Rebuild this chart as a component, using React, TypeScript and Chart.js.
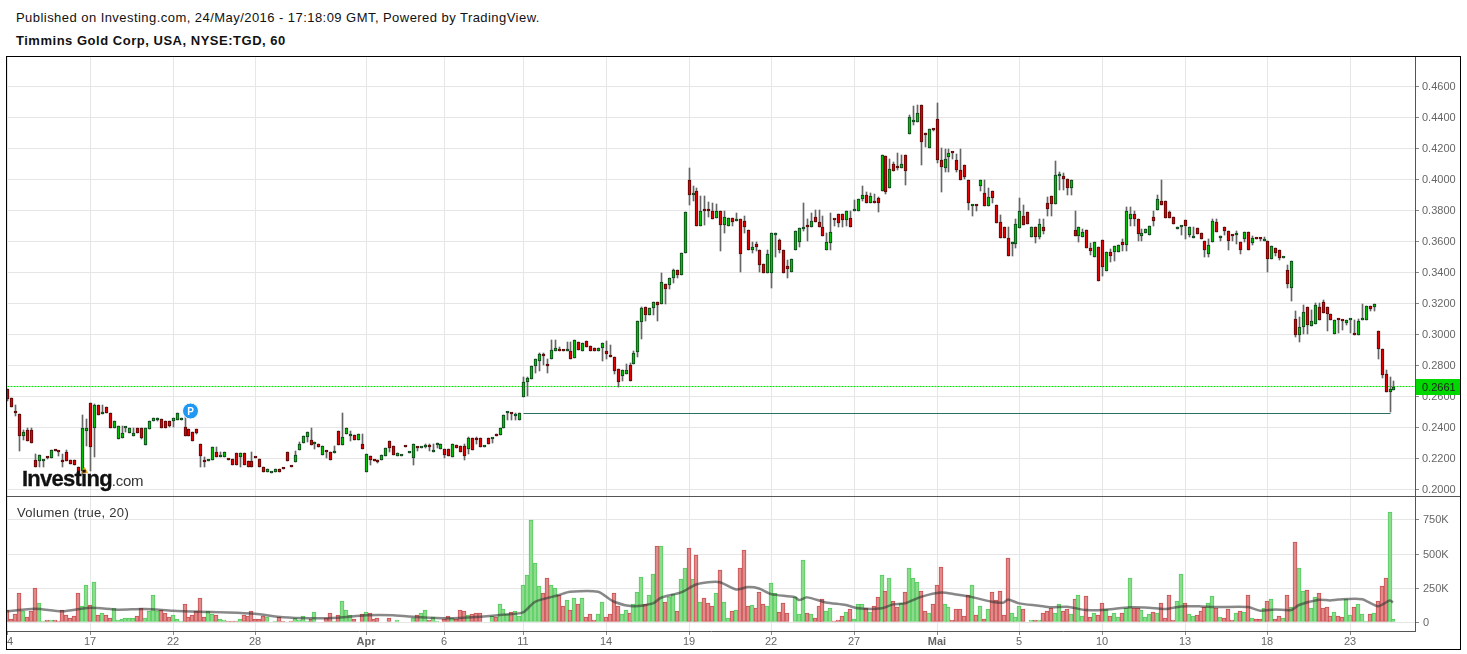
import React, { useEffect, useRef } from "react";
import { Chart, LinearScale, registerables } from "chart.js";

class SnapScale extends LinearScale {
  static id = "snap";
  static defaults = {};
  getPixelForValue(value: any) {
    const p = super.getPixelForValue(value);
    return Number.isNaN(p) ? p : Math.round(p) + ((this.options as any).snapOffset || 0);
  }
}
Chart.register(...registerables, SnapScale);

const opens = [
.2645,.2587,.2494,.2484,.234,.2381,.2381,.2189,.2178,.2183,
.2207,.2198,.2252,.2247,.2189,.2241,.2187,.2187,.2144,.2118,
.2376,.2555,.2394,.2542,.2487,.2531,.2491,.2394,.2322,.2327,
.2392,.2363,.2342,.2394,.2394,.2286,.2385,.2441,.2447,.2452,
.2441,.2441,.2437,.2443,.2445,.2402,.2387,.2368,.2387,.229,
.2189,.218,.2187,.2241,.2204,.2204,.2191,.2196,.2232,.2204,
.2232,.2178,.2183,.2206,.2191,.214,.2108,.2103,.2112,.2127,
.2136,.2241,.2146,.2172,.2254,.2295,.2333,.2316,.2288,.229,
.2222,.2241,.2241,.223,.2374,.2286,.2355,.234,.2351,.2316,
.2293,.2111,.2212,.219,.2186,.2188,.2214,.2312,.228,.2214,
.2214,.2275,.2235,.2197,.2267,.2263,.2271,.2275,.2239,.2284,
.2259,.2261,.2257,.2207,.2287,.228,.228,.2259,.2332,.2327,
.2327,.2272,.2332,.2323,.2357,.2349,.2396,.249,.2492,.2472,
.2445,.2593,.2689,.2708,.2792,.2828,.2871,.2807,.2839,.2888,
.2896,.2896,.289,.2892,.2843,.2948,.2892,.2954,.2922,.291,
.2888,.2907,.2892,.2866,.2854,.2775,.273,.274,.28,.2807,
.2881,.308,.3174,.3122,.3166,.3207,.3194,.3323,.3314,.3359,
.3413,.3381,.352,.3993,.3895,.3923,.3695,.38,.38,.3794,
.3746,.3794,.3701,.3695,.3748,.3731,.3742,.3731,.3671,.354,
.3581,.3542,.3452,.3391,.3391,.3637,.3606,.3542,.3439,.3398,
.354,.3591,.3675,.369,.3688,.3755,.3723,.369,.354,.3587,
.3735,.3774,.3774,.3733,.3748,.3793,.3794,.3869,.3897,.3845,
.3852,.3877,.3923,.4148,.394,.4097,.4084,.4069,.4155,.4288,
.4366,.4366,.4477,.4297,.4198,.4317,.4387,.4123,.4069,.414,
.4168,.4123,.4058,.409,.3994,.3828,.3832,.3953,.391,.3824,
.3923,.3832,.3723,.3693,.3619,.3583,.3579,.3682,.3761,.3787,
.3626,.3691,.3624,.3691,.3845,.389,.3837,.4017,.402,.4,
.394,.3671,.363,.3624,.3671,.3555,.3495,.3561,.3607,.3405,
.3529,.3527,.3527,.3594,.3572,.3742,.3774,.3742,.3633,.3652,
.3639,.3755,.38,.3858,.3858,.3787,.3755,.3677,.3692,.3738,
.3639,.3619,.3686,.3654,.3598,.3518,.3594,.3725,.3621,.3692,
.3667,.3641,.3639,.3596,.3615,.366,.3585,.3618,.3622,.3598,
.3598,.3484,.3557,.354,.3492,.3411,.3297,.3099,.2994,.3045,
.3176,.3052,.3067,.3176,.3209,.3176,.3131,.3002,.3097,.309,
.3071,.309,.3009,.2994,.309,.309,.3179,.3174,.3022,.2906,
.2744,.2626,.2639];

const closes = [
.2581,.2527,.2489,.234,.2368,.2308,.23,.214,.222,.2187,
.2203,.2252,.2245,.2236,.2172,.2183,.2161,.2157,.2097,.2394,
.2394,.2273,.2542,.248,.2491,.2489,.2394,.2439,.2408,.2363,
.2394,.2394,.2363,.2363,.2329,.2394,.2441,.2458,.2458,.2394,
.2394,.2404,.2458,.2491,.246,.2342,.2342,.231,.2363,.2213,
.2172,.2189,.2271,.2204,.2213,.2241,.2187,.2153,.2153,.2232,
.2153,.214,.214,.2202,.214,.2108,.2127,.2105,.2127,.2108,
.2127,.2183,.2144,.2219,.2293,.2342,.2368,.2282,.2303,.2273,
.2277,.2238,.2187,.2247,.2282,.2338,.2394,.2351,.2316,.2355,
.2261,.2225,.2186,.2182,.2173,.2222,.2267,.2265,.222,.2235,
.2216,.2271,.2237,.2293,.2263,.2267,.2275,.2271,.2248,.2288,
.2293,.222,.2212,.2293,.2265,.224,.2214,.2332,.2252,.2314,
.2272,.2274,.2291,.2325,.234,.2396,.2479,.2492,.2483,.2474,
.2492,.2691,.2717,.2796,.2839,.2873,.2856,.2792,.2896,.291,
.2888,.2888,.2892,.2837,.2961,.2896,.2941,.2914,.289,.2888,
.291,.2941,.2869,.2849,.276,.2689,.2768,.2768,.2695,.2877,
.3085,.3168,.3122,.317,.3207,.3185,.3336,.3288,.3361,.3413,
.3379,.3523,.3787,.3895,.391,.3695,.3794,.3791,.3791,.374,
.3794,.3701,.3755,.3748,.372,.3744,.3514,.3688,.354,.3561,
.3559,.3443,.3391,.3516,.3652,.3652,.354,.3391,.3422,.3484,
.3665,.3684,.369,.3688,.3729,.372,.3688,.363,.3594,.3658,
.3733,.3714,.3733,.3794,.3688,.3795,.3871,.3897,.3845,.389,
.3843,.3845,.4155,.3916,.4065,.405,.4069,.4097,.4052,.44,
.4381,.4426,.4239,.4282,.4323,.4314,.4123,.4075,.4129,.4168,
.4165,.4056,.3991,.4011,.3843,.3832,.3828,.3994,.3824,.3884,
.3875,.3714,.3617,.3617,.3501,.3594,.371,.3794,.3701,.3708,
.3691,.3628,.371,.3663,.3804,.3837,.4026,.4028,.3998,.394,
.3994,.363,.3691,.3658,.3553,.3538,.3594,.334,.343,.3529,
.3501,.3568,.3574,.3572,.3794,.3774,.3742,.3645,.3652,.3678,
.3697,.3729,.3871,.383,.3749,.3749,.371,.3692,.3694,.3697,
.3688,.3634,.3645,.3613,.3542,.3576,.3731,.3658,.3623,.3665,
.36,.363,.3641,.3542,.366,.3542,.3622,.3616,.3613,.36,
.3484,.357,.3523,.3491,.3493,.3323,.3473,.2992,.3047,.3144,
.3056,.3086,.3189,.3088,.3138,.3131,.309,.309,.3088,.3082,
.309,.3092,.2994,.3086,.3092,.3183,.3161,.3196,.2903,.2738,
.2626,.2643,.2656];

const highs = [
.2645,.2587,.2544,.2484,.2382,.2391,.2394,.2226,.222,.2187,
.2207,.2252,.2252,.2247,.2226,.2252,.2187,.2187,.2144,.248,
.2452,.2555,.2546,.2542,.2542,.2531,.2491,.2439,.2408,.2408,
.2394,.2394,.2394,.2394,.2394,.2394,.2441,.2458,.2458,.2452,
.2441,.2441,.2458,.2491,.246,.2495,.2387,.2368,.2387,.229,
.2204,.2189,.2271,.2269,.2241,.2241,.2191,.2196,.2232,.2232,
.2232,.2178,.2241,.2206,.2191,.214,.2127,.2105,.2127,.2127,
.2136,.2241,.2146,.2247,.2301,.2342,.2368,.2394,.2303,.229,
.2277,.2241,.2241,.228,.2374,.249,.2394,.2372,.2351,.2355,
.2353,.2229,.2212,.219,.2186,.2222,.2267,.2312,.228,.2235,
.2216,.2275,.2237,.2293,.2267,.2267,.2293,.2293,.2293,.2297,
.2293,.2261,.2257,.2293,.2287,.228,.2293,.2336,.2332,.2336,
.2327,.2274,.2332,.2325,.2357,.2396,.2479,.2496,.2492,.2492,
.2492,.2725,.2725,.2796,.2839,.288,.288,.2839,.2963,.2963,
.2914,.2896,.295,.295,.2961,.2948,.2941,.2954,.2922,.291,
.291,.2941,.2956,.2931,.2854,.2775,.2768,.2807,.2811,.2892,
.3085,.3175,.3174,.317,.3207,.3207,.3394,.3323,.3361,.342,
.3413,.3523,.3787,.4071,.3957,.3942,.3892,.3892,.3854,.3845,
.3839,.3794,.3796,.3748,.3748,.3783,.3742,.3761,.3671,.3594,
.3594,.3542,.3452,.3542,.3652,.3652,.3615,.3542,.3477,.3484,
.3665,.3684,.3847,.3742,.3783,.3802,.3802,.3763,.3649,.3783,
.3735,.3774,.3774,.3794,.3796,.3864,.3871,.3957,.3914,.391,
.3903,.3886,.4155,.4148,.4129,.4112,.417,.4155,.4155,.4415,
.4473,.4479,.4477,.4297,.4323,.4325,.4492,.42,.4194,.4194,
.4168,.4161,.4194,.409,.3994,.3832,.3832,.3994,.3994,.394,
.3923,.3832,.377,.3693,.3693,.3596,.3742,.3878,.3835,.3787,
.3691,.3691,.3744,.3744,.3886,.389,.4118,.4047,.4039,.4,
.3994,.3796,.3691,.3678,.3671,.3585,.3594,.3561,.3607,.3529,
.3549,.3568,.3574,.3613,.3819,.3819,.3794,.3742,.3675,.3678,
.3697,.3794,.3899,.3996,.3858,.3793,.3755,.3692,.3694,.3738,
.3692,.3688,.3686,.3654,.3598,.3611,.3744,.3744,.363,.3692,
.3667,.3641,.3665,.3596,.366,.366,.3632,.3618,.3622,.3625,
.3598,.357,.3557,.354,.3493,.3443,.3473,.3146,.311,.3185,
.3176,.3153,.32,.3202,.3222,.3176,.3131,.309,.3097,.309,
.309,.3092,.309,.3097,.3196,.3183,.3179,.3196,.3022,.2906,
.2766,.2723,.2695];

const lows = [
.2566,.2527,.2473,.2247,.2315,.2308,.23,.214,.2144,.2144,
.2196,.2198,.2245,.2215,.2144,.2183,.2161,.2157,.2097,.2097,
.228,.2118,.2204,.248,.2487,.2489,.2394,.2394,.2322,.2327,
.2366,.2363,.2342,.2363,.2322,.2286,.2385,.2441,.2437,.2394,
.2394,.2398,.2398,.2443,.2445,.2342,.2342,.231,.2354,.2144,
.2144,.218,.2187,.2204,.2204,.2204,.2187,.2153,.2153,.2144,
.2153,.214,.214,.2202,.214,.2108,.2108,.2103,.2112,.2108,
.2127,.2183,.2144,.2172,.2254,.2295,.2301,.2282,.2258,.2273,
.2222,.2198,.2187,.223,.2282,.2286,.2355,.2308,.2316,.2316,
.2261,.2111,.2154,.2182,.2169,.2188,.2214,.224,.222,.2214,
.2214,.2271,.2235,.2154,.2246,.2263,.2263,.2246,.2239,.2265,
.2259,.2199,.2212,.2207,.2265,.224,.2186,.2225,.2252,.2293,
.2272,.2272,.2291,.2297,.234,.2349,.2396,.2443,.2443,.2443,
.2445,.2593,.2603,.2708,.2747,.276,.2802,.2747,.2839,.2888,
.2888,.2888,.289,.2837,.2843,.2896,.2892,.2914,.289,.2888,
.2888,.2824,.2839,.2849,.2742,.2661,.27,.274,.2695,.2807,
.2849,.2967,.3085,.3122,.3122,.3087,.3194,.3194,.329,.3327,
.3359,.3381,.352,.3834,.3856,.3695,.3695,.3705,.3757,.374,
.3746,.3538,.3649,.3695,.3699,.3731,.3398,.3649,.354,.3525,
.3535,.3398,.3391,.3391,.3295,.3495,.3525,.3391,.3359,.3398,
.354,.3559,.3662,.3602,.3688,.372,.3688,.363,.354,.3544,
.3699,.3692,.3692,.3699,.3688,.3793,.3794,.386,.3845,.3845,
.3843,.3785,.3923,.3905,.394,.405,.4058,.4069,.3964,.4288,
.4351,.4366,.4088,.4204,.4198,.431,.4101,.3914,.4047,.4043,
.4127,.4045,.3991,.4,.38,.3764,.3796,.3921,.3824,.3824,
.3843,.3714,.3617,.3617,.3501,.3505,.3553,.3682,.3701,.3708,
.3626,.3585,.3611,.3647,.3764,.3764,.3837,.3931,.3931,.3899,
.3895,.363,.3596,.3624,.3553,.3512,.3495,.334,.3377,.3405,
.3467,.3473,.3527,.3533,.3538,.3699,.3699,.3598,.3598,.3652,
.3639,.3699,.38,.383,.3749,.3749,.371,.3677,.3637,.3615,
.3626,.3619,.3645,.3613,.3495,.3495,.3594,.3658,.36,.3637,
.3542,.36,.3583,.3518,.3594,.3542,.3574,.3616,.36,.3598,
.34,.3484,.3501,.3475,.3492,.3295,.3213,.2981,.2949,.2998,
.2998,.3052,.3067,.3088,.3138,.3017,.309,.3002,.3007,.3024,
.3056,.3007,.2994,.2994,.309,.309,.3146,.3148,.2839,.2719,
.2626,.2497,.2639];

const volumesK = [
85,20,56,209,80,34,80,250,136,8,
12,12,12,5,85,49,27,41,209,114,
267,121,296,49,63,49,27,100,12,19,
27,27,27,41,100,27,78,194,78,85,
63,34,49,19,7,129,34,49,78,172,
34,78,56,49,22,17,10,5,10,19,
49,41,78,19,19,41,34,3,5,34,
7,2,7,27,12,41,5,22,70,3,
3,27,63,7,49,150,85,49,19,3,
56,70,63,19,27,3,2,27,3,12,
2,2,2,27,49,63,85,12,34,5,
2,22,41,27,22,85,78,49,56,63,
63,3,3,41,34,129,92,56,70,78,
44,274,347,747,434,260,209,318,267,245,
201,114,158,85,172,129,172,34,56,12,
56,143,34,56,209,114,56,85,63,129,
216,332,129,194,354,558,558,143,180,206,
78,311,398,544,311,493,143,172,136,114,
209,383,143,27,78,85,398,529,114,121,
100,216,129,114,282,209,70,136,63,2,
180,56,456,63,56,27,114,165,78,100,
5,12,41,70,92,19,129,129,100,70,
114,180,340,223,325,150,107,136,216,398,
318,296,223,78,63,129,267,405,129,107,
12,92,92,41,201,274,49,114,19,92,
216,158,223,49,471,63,34,114,92,2,
12,12,12,63,78,100,63,129,78,92,
56,165,194,41,187,34,63,49,136,92,
41,63,34,63,100,325,100,100,85,34,
56,70,63,136,27,201,12,150,354,136,
56,41,49,78,112,136,187,100,34,27,
92,12,63,78,70,194,27,19,19,100,
150,165,19,41,27,201,107,587,398,223,
231,100,180,209,100,107,41,70,41,34,
165,49,107,129,56,5,56,63,150,260,
318,806,19];

const maBars = [0,7,14,21,28,35,42,49,56,63,70,77,84,91,98,105,112,119,125,131,134,140,143,150,154,159,164,166,171,175,178,181,185,188,191,194,200,201,203,208,213,216,222,225,228,232,237,241,245,250,253,254,257,262,265,269,274,279,285,290,294,298,303,307,315,318,322,326,328,333,336,338,344,348,351,352];
const maValuesK = [78,97,78,104,90,95,82,75,70,60,34,27,31,49,49,34,27,36,51,70,148,197,221,221,148,116,136,177,216,274,291,291,238,255,245,204,182,160,180,143,124,100,100,129,136,184,216,201,182,148,143,165,136,119,107,112,87,90,107,104,95,114,114,109,109,82,92,87,124,163,158,165,167,116,158,143];

const barTicks = [0,21,42,63,91,111,131,152,173,194,215,236,257,278,299,320,341];
const barTickLabels = ["14","17","22","28","Apr","6","11","14","19","22","27","Mai","5","10","13","18","23"];
const boldTickLabels = ["Apr","Mai"];
const priceTicks = [.2,.22,.24,.26,.28,.3,.32,.34,.36,.38,.4,.42,.44,.46];
const volumeTicksK = [0,250,500,750];

const lastPrice = 0.2661;
const trendPrice = 0.2486;
const trendBars = [131, 351];
const publishMark = { bar: 46.3, price: 0.2506 };
const dividendMark = { bar: 19.5, price: 0.2117 };

const publishedLine = "Published on Investing.com, 24/May/2016 - 17:18:09 GMT, Powered by TradingView.";
const symbolLine = "Timmins Gold Corp, USA, NYSE:TGD, 60";
const volumeLine = "Volumen (true, 20)";

const FONT = '"Liberation Sans", Arial, sans-serif';
const X_MIN = -0.076;
const X_MAX = 357.46;
const GRID = "#e6e6e6";
const AXIS = "#555555";
const TICKTXT = "#666666";

const rising = opens.map((o, i) => closes[i] >= o);

const currentPricePlugin = {
  id: "currentPrice",
  afterDraw(chart: any) {
    const { ctx, scales, chartArea } = chart;
    const y = Math.round(scales.y.getPixelForValue(lastPrice));
    ctx.save();
    ctx.fillStyle = "#00d800";
    ctx.fillRect(chartArea.right + 1, y - 8, chart.width - chartArea.right - 1, 16);
    ctx.fillStyle = "#222222";
    ctx.font = `11px ${FONT}`;
    ctx.textBaseline = "middle";
    ctx.fillText(lastPrice.toFixed(4), chartArea.right + 7, y + 1);
    const meta = chart.getDatasetMeta(chart.data.datasets.findIndex((d: any) => d.label === "P"));
    const pt = meta.data[0];
    ctx.fillStyle = "#ffffff";
    ctx.font = `bold 10px ${FONT}`;
    ctx.textAlign = "center";
    ctx.fillText("P", pt.x, pt.y + 1);
    ctx.restore();
  },
};

const zeroPad = (s: any) => {
  s.paddingLeft = 0; s.paddingRight = 0; s.paddingTop = 0; s.paddingBottom = 0;
};

const priceTickList = () => priceTicks.map((value) => ({ value }));
const barTickList = () => barTicks.map((value) => ({ value }));

export default function App() {
  const priceRef = useRef<HTMLCanvasElement>(null);
  const volumeRef = useRef<HTMLCanvasElement>(null);

  useEffect(() => {
    const k = 0.02 / 31;
    const priceMax = 0.46 + 29 * k;
    const priceMin = 0.46 - 410 * k;
    const volPerPx = 750 / 102.6;
    const volMax = (622 - 497) * volPerPx;
    const volMin = -(631 - 622) * volPerPx;

    const lineY = { type: "snap", snapOffset: -0.5, display: false, min: priceMin, max: priceMax, grid: { display: false } };

    const priceChart = new Chart(priceRef.current!, {
      type: "bar",
      data: {
        datasets: [
          {
            type: "line", label: "last", order: 5, yAxisID: "yLine", borderColor: "#00e000", borderWidth: 1, borderDash: [2, 1],
            pointRadius: 0, data: [{ x: X_MIN, y: lastPrice }, { x: X_MAX, y: lastPrice }],
          },
          {
            type: "line", label: "trend", order: 4, yAxisID: "yLine", borderColor: "#2a6f62", borderWidth: 1,
            pointRadius: 0, data: trendBars.map((x) => ({ x, y: trendPrice })),
          },
          {
            label: "wicks", order: 3, grouped: false, barThickness: 1, backgroundColor: "#666666",
            data: opens.map((_, i) => ({ x: i, y: [lows[i], highs[i]] })),
          },
          {
            label: "bodies", order: 2, grouped: false, barThickness: 3, minBarLength: 2, borderWidth: 1, borderSkipped: false,
            backgroundColor: rising.map((r) => (r ? "#00c000" : "#e00000")),
            borderColor: rising.map((r) => (r ? "#123f20" : "#500a0a")),
            data: opens.map((o, i) => ({ x: i, y: [Math.min(o, closes[i]), Math.max(o, closes[i])] })),
          },
          {
            type: "line", label: "P", order: 1, showLine: false, pointRadius: 8, pointHoverRadius: 8,
            pointBackgroundColor: "#1e98f2", pointBorderColor: "#ffffff", pointBorderWidth: 1,
            data: [{ x: publishMark.bar, y: publishMark.price }],
          },
          {
            type: "line", label: "D", order: 1, showLine: false, pointStyle: "triangle", pointRadius: 3.5,
            pointBackgroundColor: "#f5a623", pointBorderColor: "#f5a623",
            data: [{ x: dividendMark.bar, y: dividendMark.price }],
          },
        ] as any,
      },
      options: {
        responsive: false, animation: false, devicePixelRatio: 1,
        layout: { padding: 0, autoPadding: false },
        plugins: { legend: { display: false }, tooltip: { enabled: false } },
        events: [],
        scales: {
          x: {
            type: "snap", snapOffset: 0.5, offset: false, min: X_MIN, max: X_MAX, position: "bottom",
            grid: { color: GRID, drawTicks: false, offset: false }, border: { display: false },
            ticks: { display: false },
            afterBuildTicks: (s: any) => { s.ticks = barTickList(); },
            afterFit: (s: any) => { s.height = 0; zeroPad(s); },
          },
          y: {
            type: "snap", position: "right", min: priceMin, max: priceMax,
            grid: { color: GRID, tickColor: "#888888", tickLength: 4 }, border: { color: AXIS },
            ticks: { color: TICKTXT, padding: 3, labelOffset: 1, font: { family: FONT, size: 11 }, callback: (v: any) => Number(v).toFixed(4), autoSkip: false },
            afterBuildTicks: (s: any) => { s.ticks = priceTickList(); },
            afterFit: (s: any) => { s.width = 45; zeroPad(s); },
          },
          yLine: lineY,
        } as any,
      } as any,
      plugins: [currentPricePlugin],
    });

    const volumeChart = new Chart(volumeRef.current!, {
      type: "bar",
      data: {
        datasets: [
          {
            type: "line", label: "ma", order: 1, yAxisID: "yMa", borderColor: "rgba(50,50,50,0.58)", borderWidth: 2.5,
            pointRadius: 0, tension: 0.25, data: maBars.map((x, i) => ({ x, y: maValuesK[i] })),
          },
          {
            label: "volume", order: 2, grouped: false, barThickness: 4, borderWidth: 1, borderSkipped: false,
            backgroundColor: rising.map((r) => (r ? "#8ddc8d" : "#e08a8a")),
            borderColor: rising.map((r) => (r ? "#55cc5e" : "#c95052")),
            data: volumesK.map((v, i) => ({ x: i, y: [0, v] })),
          },
        ] as any,
      },
      options: {
        responsive: false, animation: false, devicePixelRatio: 1,
        layout: { padding: 0, autoPadding: false },
        plugins: { legend: { display: false }, tooltip: { enabled: false } },
        events: [],
        scales: {
          x: {
            type: "snap", snapOffset: 0, offset: false, min: X_MIN, max: X_MAX, position: "bottom",
            grid: { color: GRID, tickColor: "#888888", tickLength: 4, offset: false }, border: { color: AXIS },
            ticks: {
              color: TICKTXT, padding: 0, maxRotation: 0, autoSkip: false,
              font: (c: any) => ({ family: FONT, size: 11, weight: boldTickLabels.includes(c.tick?.label) ? "bold" : "normal" }),
              callback: (v: any) => barTickLabels[barTicks.indexOf(Number(v))],
            },
            afterBuildTicks: (s: any) => { s.ticks = barTickList(); },
            afterFit: (s: any) => { s.height = 18; zeroPad(s); },
          },
          y: {
            type: "snap", position: "right", min: volMin, max: volMax,
            grid: { color: GRID, tickColor: "#888888", tickLength: 4 }, border: { color: AXIS },
            ticks: { color: TICKTXT, padding: 4, labelOffset: 1, font: { family: FONT, size: 11 }, autoSkip: false, callback: (v: any) => (v === 0 ? "0" : `${v}K`) },
            afterBuildTicks: (s: any) => { s.ticks = volumeTicksK.map((value) => ({ value })); },
            afterFit: (s: any) => { s.width = 45; zeroPad(s); },
          },
          yMa: { type: "linear", display: false, min: volMin, max: volMax, grid: { display: false } },
        } as any,
      } as any,
    });

    return () => {
      priceChart.destroy();
      volumeChart.destroy();
    };
  }, []);

  const abs = (left: number, top: number, extra: any = {}): any => ({ position: "absolute", left, top, whiteSpace: "nowrap", ...extra });

  return (
    <div style={{ position: "absolute", left: 0, top: 0, width: 1467, height: 654, overflow: "hidden", background: "#fff", fontFamily: FONT }}>
      <div style={abs(16, 10, { fontSize: 13, lineHeight: "15px", color: "#111", letterSpacing: "0.45px" })}>{publishedLine}</div>
      <div style={abs(16, 33, { fontSize: 13, lineHeight: "15px", color: "#111", fontWeight: "bold", letterSpacing: "0.52px" })}>{symbolLine}</div>
      <div style={abs(6, 56, { width: 1455, height: 594, boxSizing: "border-box", border: "1px solid #000" })} />
      <canvas ref={priceRef} width={1453} height={439} style={abs(7, 57, { display: "block" })} />
      <div style={abs(7, 496, { width: 1453, height: 1, background: AXIS })} />
      <canvas ref={volumeRef} width={1453} height={152} style={abs(7, 497, { display: "block" })} />
      <div style={abs(17, 505, { fontSize: 13, lineHeight: "15px", color: "#333", letterSpacing: "0.28px" })}>{volumeLine}</div>
      <div style={abs(22, 466, { fontSize: 22, lineHeight: "26px", color: "#111", fontWeight: "bold", letterSpacing: "-0.75px", WebkitTextStroke: "0.3px #111" })}>
        Investing<span style={{ fontSize: 15, fontWeight: "normal", color: "#333", letterSpacing: "-0.3px", WebkitTextStroke: "0" }}>.com</span>
      </div>
    </div>
  );
}
